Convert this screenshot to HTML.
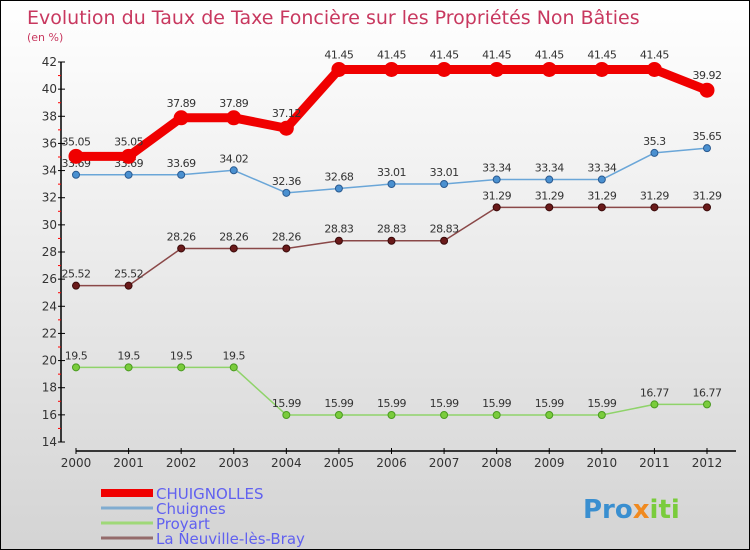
<!DOCTYPE html>
<html><head><meta charset="utf-8"><style>
body{margin:0;}
#c{width:750px;height:550px;position:relative;box-sizing:border-box;border:1px solid #000;background:linear-gradient(#ffffff,#d4d4d4);font-family:"DejaVu Sans","Liberation Sans",sans-serif;overflow:hidden}
svg text{font-family:"DejaVu Sans","Liberation Sans",sans-serif}
</style></head><body>
<div id="c">
<svg id="s" width="750" height="550">
<text x="26" y="23" font-size="19" fill="#c8385f">Evolution du Taux de Taxe Foncière sur les Propriétés Non Bâties</text>
<text x="26" y="40" font-size="11" fill="#c8385f">(en %)</text>
</svg></div>
<script>
const years=[2000,2001,2002,2003,2004,2005,2006,2007,2008,2009,2010,2011,2012];
const yTicks=[14,16,18,20,22,24,26,28,30,32,34,36,38,40,42];
const chuignolles=[35.05,35.05,37.89,37.89,37.12,41.45,41.45,41.45,41.45,41.45,41.45,41.45,39.92];
const chuignes=[33.69,33.69,33.69,34.02,32.36,32.68,33.01,33.01,33.34,33.34,33.34,35.3,35.65];
const proyart=[19.5,19.5,19.5,19.5,15.99,15.99,15.99,15.99,15.99,15.99,15.99,16.77,16.77];
const neuville=[25.52,25.52,28.26,28.26,28.26,28.83,28.83,28.83,31.29,31.29,31.29,31.29,31.29];
const names=["CHUIGNOLLES","Chuignes","Proyart","La Neuville-lès-Bray"];
const s=document.getElementById('s');const NS='http://www.w3.org/2000/svg';
function X(i){return 75+i*(706-75)/(years.length-1);}
function Y(v){return 441-(v-14)*(441-61)/28;}
function el(t,a,p){const e=document.createElementNS(NS,t);for(const k in a)e.setAttribute(k,a[k]);(p||s).appendChild(e);return e;}
// axes
let ax=el('line',{x1:60,y1:61,x2:60,y2:441,stroke:'#000','stroke-width':1.5});


let bx=el('line',{x1:75,y1:450,x2:735,y2:450,stroke:'#000','stroke-width':1.5});


yTicks.forEach(v=>{const y=Y(v);
 el('line',{x1:57,y1:y,x2:64,y2:y,stroke:'#000'});
 if(v<42)el('line',{x1:57,y1:Y(v+1),x2:60,y2:Y(v+1),stroke:'#f00'});
 const t=el('text',{x:56,y:y+4,'font-size':12,fill:'#333','text-anchor':'end'});t.textContent=v;
 
 });
years.forEach((yr,i)=>{const x=X(i);el('line',{x1:x,y1:447,x2:x,y2:453,stroke:'#000'});
 const t=el('text',{x:x,y:466,'font-size':12,fill:'#333','text-anchor':'middle'});t.textContent=yr;
 
 });
function series(d,col,w,r,dot,stroke,name,labels){
 const g=el('g',{});
 
 
 el('polyline',{points:d.map((v,i)=>X(i)+','+Y(v)).join(' '),fill:'none',stroke:col,'stroke-width':w,'stroke-linejoin':'round'},g);
 d.forEach((v,i)=>{const c=el('circle',{cx:X(i),cy:Y(v),r:r,fill:dot,stroke:stroke,'stroke-width':1},g);
  
  
  if(labels){const t=el('text',{x:X(i),y:Y(v)-8-(r>4?3:0),'font-size':11,fill:'#333','text-anchor':'middle','letter-spacing':'-0.5'},g);t.textContent=v;}});
}
series(proyart,'#8fd36a',1.5,3.5,'#7acc3c','#4a9a20','series-proyart',true);
series(neuville,'#8a4848',1.5,3.5,'#6a1a1a','#3a0a0a','series-la-neuville',true);
series(chuignes,'#6aa6d8',1.5,3.5,'#4a90d0','#2a5a90','series-chuignes',true);
series(chuignolles,'#f00000',9,7,'#f00000','#f00000','series-chuignolles',true);
// legend
const cols=['#f00000','#80acd0','#9fd878','#946b6b'],ws=[8,3,3,3];
names.forEach((n,i)=>{const y=492+i*15;
 const l=el('line',{x1:100,y1:y,x2:152,y2:y,stroke:cols[i],'stroke-width':ws[i]});
 
 
 const t=el('text',{x:155,y:y+6,'font-size':15,fill:'#6060f0'});t.textContent=n;
 
 });
const lg=el('text',{x:582,y:517,'font-size':26,'font-weight':'bold',fill:'#3a8fd0'});


lg.innerHTML='Pro<tspan fill="#f08a20">x</tspan><tspan fill="#7acc3c">iti</tspan>';
</script>
</body></html>
